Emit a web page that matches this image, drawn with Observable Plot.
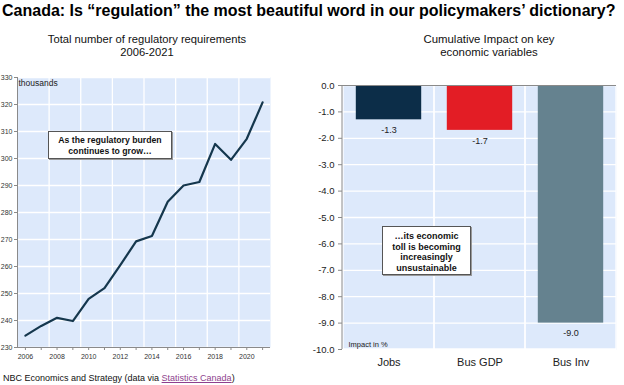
<!DOCTYPE html>
<html><head><meta charset="utf-8">
<script src="https://cdn.jsdelivr.net/npm/d3@7"></script>
<script src="https://cdn.jsdelivr.net/npm/@observablehq/plot@0.6"></script>
<style>
body{margin:0;background:#fff;font-family:Arial,"Liberation Sans",sans-serif;}
#wrap{position:relative;width:624px;height:385px;overflow:hidden;background:#fff;}
.t{position:absolute;white-space:nowrap;color:#111;}
.box{position:absolute;background:#fff;border:1px solid #555;box-shadow:1px 1px 0 #999;font-weight:bold;font-size:8.7px;line-height:10.5px;text-align:center;color:#111;box-sizing:border-box;}
</style></head><body><div id="wrap">
<div class="t" style="left:2px;top:2px;font-weight:bold;font-size:16px;line-height:18px;color:#000">Canada: Is “regulation” the most beautiful word in our policymakers’ dictionary?</div>
<div class="t" style="left:0;width:294px;top:33px;font-size:11.2px;text-align:center;line-height:13px">Total number of regulatory requirements<br>2006-2021</div>
<div class="t" style="left:389px;width:200px;top:33px;font-size:11.4px;text-align:center;line-height:13px">Cumulative Impact on key<br>economic variables</div>
<div id="left" style="position:absolute;left:0;top:70px"></div>
<div id="right" style="position:absolute;left:300px;top:70px"></div>
<div class="box" style="left:48px;top:131px;width:124px;height:28px;padding-top:3px">As the regulatory burden<br>continues to grow…</div>
<div class="box" style="left:382px;top:226px;width:89px;height:49px;padding-top:4px;font-size:9px">…its economic<br>toll is becoming<br>increasingly<br>unsustainable</div>
<div class="t" style="left:3px;top:373px;font-size:9px">NBC Economics and Strategy (data via <span style="color:#8e3f8e;text-decoration:underline">Statistics Canada</span>)</div>
</div>
<script>
// ---- Left chart data ----
const years = [2006,2007,2008,2009,2010,2011,2012,2013,2014,2015,2016,2017,2018,2019,2020,2021];
const requirements = [234.4,238.0,241.0,239.8,248.0,252.0,260.5,269.3,271.3,284.0,290.0,291.3,305.4,299.5,307.3,320.8];
const leftYTicks = [230,240,250,260,270,280,290,300,310,320,330];
const leftXLabels = [2006,2008,2010,2012,2014,2016,2018,2020];

// ---- Right chart data ----
const categories = ["Jobs","Bus GDP","Bus Inv"];
const impact = [-1.3,-1.7,-9.0];
const barColors = ["#0c2d48","#e31d25","#65828f"];
const rightYTicks = [0,-1,-2,-3,-4,-5,-6,-7,-8,-9,-10];

const bg = "#dde9fb";
const axisGray = "#8a8a8a";
const narrow = "'Liberation Sans Narrow','Arial Narrow',Arial,sans-serif";

// Left chart
const lineData = years.map((y,i)=>({year:y, value:requirements[i]}));
const gridYears = d3.range(years[0]+1.5, years[years.length-1], 2);
const left = Plot.plot({
  width: 280, height: 297,
  marginLeft: 17, marginRight: 10, marginTop: 7, marginBottom: 20,
  x: {domain: [years[0]-0.5, years[years.length-1]+0.5], label: null},
  y: {domain: [leftYTicks[0], leftYTicks[leftYTicks.length-1]], label: null},
  style: {fontFamily: narrow, fontSize: "7px", color: "#333", background: "transparent"},
  marks: [
    Plot.frame({fill: bg, stroke: null}),
    Plot.gridY(leftYTicks, {stroke: "#fff", strokeOpacity: 1, strokeWidth: 1.3}),
    Plot.gridX(gridYears, {stroke: "#fff", strokeOpacity: 1, strokeWidth: 1.3}),
    Plot.ruleX([years[0]-0.5], {stroke: axisGray}),
    Plot.ruleY([leftYTicks[0]], {stroke: axisGray}),
    Plot.axisY(leftYTicks, {tickSize: 3, tickPadding: 2, stroke: axisGray, fill: "#333", label: null, tickFormat: d => String(d)}),
    Plot.axisX(years, {tickSize: 3, tickPadding: 4, stroke: axisGray, fill: "#333", label: null, tickFormat: d => leftXLabels.includes(d) ? String(d) : ""}),
    Plot.line(lineData, {x: "year", y: "value", stroke: "#15374d", strokeWidth: 2.2}),
    Plot.text(["thousands"], {frameAnchor: "top-left", dx: 1, dy: 2, textAnchor: "start", lineAnchor: "top", fontSize: 8.5, fontFamily: "Arial,sans-serif", fill: "#222"})
  ]
});
document.getElementById("left").append(left);

// Right chart
const rows = categories.map((c,i)=>({cat:c, val:impact[i], color:barColors[i]}));
const leftLine = (index, scales, values, dims) => {
  const g = d3.create("svg:line")
    .attr("x1", dims.marginLeft).attr("x2", dims.marginLeft)
    .attr("y1", dims.marginTop).attr("y2", dims.height - dims.marginBottom)
    .attr("stroke", axisGray);
  return g.node();
};
const right = Plot.plot({
  width: 324, height: 299,
  marginLeft: 42, marginRight: 8, marginTop: 15, marginBottom: 20,
  x: {domain: categories, padding: 0, label: null},
  y: {domain: [rightYTicks[rightYTicks.length-1], rightYTicks[0]], label: null},
  color: {type: "identity"},
  style: {fontFamily: "Arial,'Liberation Sans',sans-serif", fontSize: "9px", color: "#333", background: "transparent"},
  marks: [
    Plot.frame({fill: bg, stroke: null}),
    Plot.gridY(rightYTicks, {stroke: "#fff", strokeOpacity: 1, strokeWidth: 1.3}),
    Plot.barY(categories, {x: d => d, y1: rightYTicks[0], y2: rightYTicks[rightYTicks.length-1], fill: "none", stroke: "#fff", strokeWidth: 1.3}),
    Plot.barY(rows, {x: "cat", y: "val", fill: "color", insetLeft: 12.8, insetRight: 12.8}),
    Plot.ruleY([0], {stroke: axisGray}),
    leftLine,
    Plot.axisY(rightYTicks, {tickSize: 4, tickPadding: 4, stroke: axisGray, fill: "#222", fontSize: 9.5, label: null, tickFormat: d => d.toFixed(1)}),
    Plot.axisX({tickSize: 0, tickPadding: 9, fill: "#222", fontSize: 11, label: null}),
    Plot.text(rows, {x: "cat", y: "val", text: d => d.val.toFixed(1), dy: 10.5, fontSize: 9, fill: "#222"}),
    Plot.text(["Impact in %"], {frameAnchor: "bottom-left", dx: 6, dy: -3, textAnchor: "start", lineAnchor: "bottom", fontSize: 7.5, fill: "#222"})
  ]
});
document.getElementById("right").append(right);
</script>
</body></html>
